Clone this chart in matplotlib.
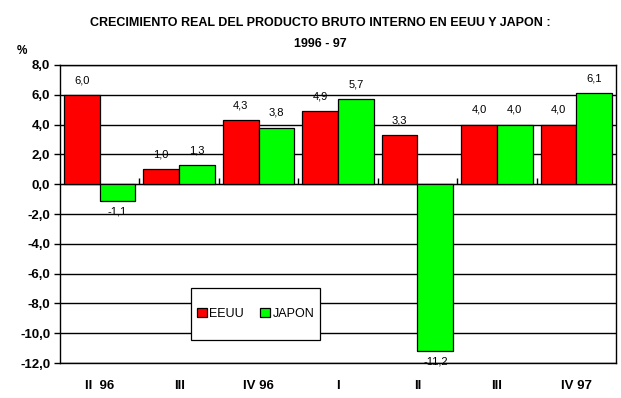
import numpy as np
import matplotlib
matplotlib.use("Agg")
import matplotlib.pyplot as plt
from matplotlib.patches import Rectangle

plt.rcParams['font.family'] = ['Liberation Sans', 'DejaVu Sans']

# datos
trimestres = ["II  96", "III", "IV 96", "I", "II", "III", "IV 97"]
eeuu = [6.0, 1.0, 4.3, 4.9, 3.3, 4.0, 4.0]
japon = [-1.1, 1.3, 3.8, 5.7, -11.2, 4.0, 6.1]
yticks = np.arange(-12, 9, 2)

fig = plt.figure(figsize=(6.21, 3.98), dpi=100)
ax = fig.add_axes([0.0966, 0.0879, 0.8954, 0.7488])

x = np.arange(len(trimestres))
w = 0.45
b1 = ax.bar(x - w, eeuu, w, align='edge', color='#FF0000', edgecolor='black',
            linewidth=0.9, label='EEUU', zorder=3)
b2 = ax.bar(x, japon, w, align='edge', color='#00FF00', edgecolor='black',
            linewidth=0.9, label='JAPON', zorder=3)

# etiquetas de valores
def fmt(v):
    return f"{v:.1f}".replace('.', ',')

for bars, vals in ((b1, eeuu), (b2, japon)):
    for r, v in zip(bars, vals):
        cx = r.get_x() + r.get_width() / 2
        if v >= 0:
            ax.annotate(fmt(v), (cx, v), xytext=(0, 7), textcoords='offset points',
                        ha='center', va='bottom', fontsize=8)
        else:
            ax.annotate(fmt(v), (cx, v), xytext=(0, -4), textcoords='offset points',
                        ha='center', va='top', fontsize=8)

ax.set_xlim(-0.5, len(trimestres) - 0.5)
ax.set_ylim(-12, 8)
ax.set_yticks(yticks)
ax.set_yticklabels([fmt(v) for v in yticks], fontsize=9.5, fontweight='bold')
ax.yaxis.grid(True, color='black', linewidth=1.0, zorder=0)
ax.set_axisbelow(True)
ax.tick_params(axis='y', length=4, width=1, direction='out', pad=3)

ax.set_xticks(x)
ax.set_xticklabels(trimestres, fontsize=9.5, fontweight='bold')
ax.tick_params(axis='x', length=0, pad=12)

# marcas en el eje cero
sec = ax.secondary_xaxis(0.6)
sec.set_xticks(np.arange(0.5, len(trimestres) - 1, 1.0))
sec.set_xticklabels([])
sec.tick_params(length=4, width=1, direction='out')
sec.spines['bottom'].set_visible(False)

for s in ax.spines.values():
    s.set_linewidth(1.0)

# caja de la leyenda
box = (0.236, 0.077, 0.232, 0.175)
ax.add_patch(Rectangle(box[:2], box[2], box[3], transform=ax.transAxes,
                       facecolor='white', edgecolor='black', linewidth=0.9,
                       zorder=4))
leg = ax.legend(loc='center', bbox_to_anchor=box,
                ncol=2, fontsize=9, frameon=False,
                handlelength=0.8, handleheight=0.8,
                handletextpad=0.2, columnspacing=1.3, borderaxespad=0)
leg.set_zorder(5)

fig.text(0.515, 0.942, "CRECIMIENTO REAL DEL PRODUCTO BRUTO INTERNO EN EEUU Y JAPON :",
         ha='center', va='center', fontsize=9, fontweight='bold')
fig.text(0.515, 0.89, "1996 - 97", ha='center', va='center',
         fontsize=9, fontweight='bold')
fig.text(0.035, 0.872, "%", ha='center', va='center', fontsize=8.5, fontweight='bold')

fig.savefig("out.png", dpi=100)
